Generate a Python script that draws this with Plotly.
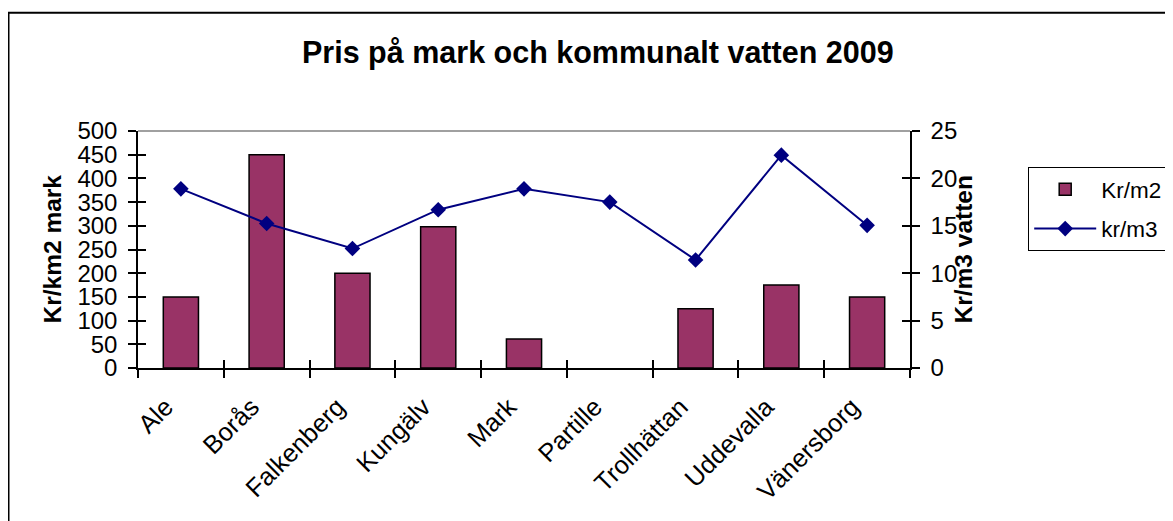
import plotly.graph_objects as go

categories = ["Ale", "Borås", "Falkenberg", "Kungälv", "Mark", "Partille",
              "Trollhättan", "Uddevalla", "Vänersborg"]
mark_kr_m2 = [150, 450, 200, 298, 61, None, 125, 175, 150]
vatten_kr_m3 = [18.9, 15.25, 12.6, 16.7, 18.9, 17.5, 11.4, 22.45, 15.05]
left_ticks = list(range(0, 501, 50))
right_ticks = list(range(0, 26, 5))

FONT = "Liberation Sans, Arial, sans-serif"
OFF = 8  # default page body margin
W, H = 1173 - OFF, 521 - OFF
L, R, T, B = 130, 263, 123, 153
pw = W - L - R
ph = H - T - B

def px_x(x):
    return (x - OFF - L) / pw

def px_y(y):
    return (H - B - (y - OFF)) / ph

fig = go.Figure()
fig.add_trace(go.Bar(
    x=categories, y=mark_kr_m2, name="Kr/m2",
    marker=dict(color="#993366", line=dict(color="#000000", width=1.5)),
    yaxis="y", xaxis="x", legendgroup="a",
))
fig.add_trace(go.Scatter(
    x=categories, y=vatten_kr_m3, name="kr/m3", mode="lines+markers",
    line=dict(color="#000080", width=2),
    marker=dict(symbol="diamond", size=12, color="#000080"),
    yaxis="y2", xaxis="x", legendgroup="b",
))

axis_common = dict(showgrid=False, zeroline=False, linecolor="#000000", linewidth=1.5,
                   tickcolor="#000000", tickwidth=1.5, ticklen=8,
                   tickfont=dict(family=FONT, size=24, color="#000000"))

fig.update_layout(
    width=W, height=H,
    margin=dict(l=L, r=R, t=T, b=B, autoexpand=False),
    paper_bgcolor="#ffffff", plot_bgcolor="#ffffff",
    font=dict(family=FONT, color="#000000"),
    bargap=0.59,
    showlegend=True,
    legend=dict(x=px_x(1028), y=px_y(167), xanchor="left", yanchor="top",
                bordercolor="#000000", borderwidth=1.2, bgcolor="#ffffff",
                font=dict(family=FONT, size=22.5, color="#000000"),
                itemwidth=62, tracegroupgap=7),
    xaxis=dict(**{k: v for k, v in axis_common.items() if k != "tickfont"},
               tickfont=dict(family=FONT, size=25.5, color="#000000"),
               type="category", ticks="outside", tickson="boundaries",
               tickangle=-45, showline=True, range=[-0.5, 8.5],
               ticklabelshift=-15, ticklabelstandoff=12),
    yaxis=dict(**axis_common, range=[0, 500], tickvals=left_ticks, ticks="outside",
               showline=True, ticklabelstandoff=6),
    yaxis2=dict(**axis_common, range=[0, 25], tickvals=right_ticks, ticks="outside",
                overlaying="y", side="right", showline=True, ticklabelstandoff=6),
    # inner halves of cross ticks
    yaxis3=dict(range=[0, 500], tickvals=left_ticks, ticks="inside", ticklen=8,
                tickcolor="#000000", tickwidth=1.5, showticklabels=False, showgrid=False,
                zeroline=False, overlaying="y", side="left", showline=False),
    yaxis4=dict(range=[0, 25], tickvals=right_ticks, ticks="inside", ticklen=8,
                tickcolor="#000000", tickwidth=1.5, showticklabels=False, showgrid=False,
                zeroline=False, overlaying="y", side="right", showline=False),
    xaxis2=dict(range=[0, len(categories)], tickmode="linear", tick0=0, dtick=1,
                ticks="inside", ticklen=8, tickcolor="#000000", tickwidth=1.5,
                showticklabels=False, showgrid=False, zeroline=False,
                overlaying="x", side="bottom", showline=False, anchor="y"),
    shapes=[
        dict(type="line", xref="paper", yref="paper", x0=0, x1=1, y0=1, y1=1,
             line=dict(color="#808080", width=1.5)),
        dict(type="rect", xref="paper", yref="paper",
             x0=px_x(8.5), x1=px_x(1185), y0=px_y(535), y1=px_y(12.7),
             line=dict(color="#000000", width=2), fillcolor="rgba(0,0,0,0)"),
    ],
    annotations=[
        dict(text="<b>Pris på mark och kommunalt vatten 2009</b>", xref="paper", yref="paper",
             x=px_x(598), y=px_y(52), xanchor="center", yanchor="middle", showarrow=False,
             font=dict(family=FONT, size=30.5, color="#000000")),
        dict(text="<b>Kr/km2 mark</b>", xref="paper", yref="paper",
             x=px_x(52), y=0.5, xanchor="center", yanchor="middle", textangle=-90,
             showarrow=False, font=dict(family=FONT, size=24.5, color="#000000")),
        dict(text="<b>Kr/m3 vatten</b>", xref="paper", yref="paper",
             x=px_x(963), y=0.5, xanchor="center", yanchor="middle", textangle=-90,
             showarrow=False, font=dict(family=FONT, size=24.5, color="#000000")),
    ],
)

# invisible helper traces so the overlay tick axes render
fig.add_trace(go.Scatter(x=[None], y=[None], yaxis="y3", showlegend=False, hoverinfo="skip"))
fig.add_trace(go.Scatter(x=[None], y=[None], yaxis="y4", showlegend=False, hoverinfo="skip"))
fig.add_trace(go.Scatter(x=[None], y=[None], xaxis="x2", yaxis="y", showlegend=False, hoverinfo="skip"))

fig.write_html("out.html")
